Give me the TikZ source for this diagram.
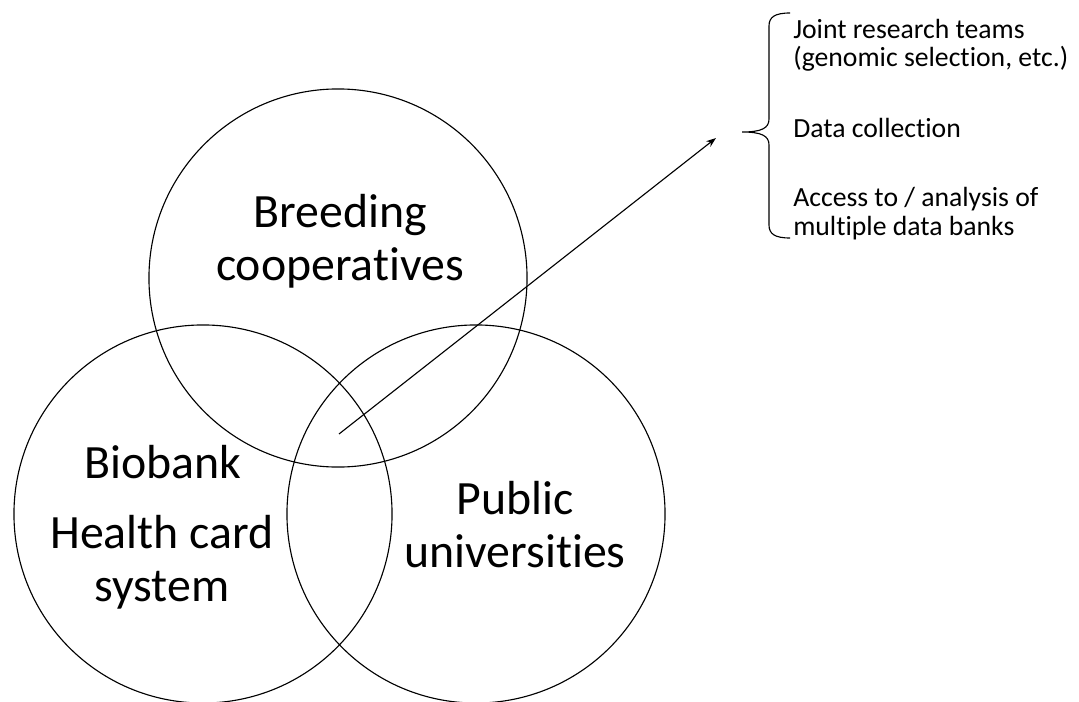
\documentclass[tikz,border=0pt]{standalone}
\usepackage{fontspec}
\setmainfont[Ligatures=NoCommon]{Carlito}
\usetikzlibrary{arrows.meta}

\tikzset{
    venn/.style={circle, draw, line width=0.8pt, minimum size=9.45cm, inner sep=0pt},
    bigtext/.style={align=center, anchor=base, font=\fontsize{34}{37}\selectfont},
    smalltext/.style={align=left, anchor=base west, inner xsep=0pt, font=\fontsize{19.7}{20.5}\selectfont}
}

\begin{document}
\begin{tikzpicture}[x=0.025cm, y=-0.025cm]
        \useasboundingbox (0,0) rectangle (1079,702);

        % the three circles
        \node[venn] (breed) at (338,278) {};
        \node[venn] (bio) at (203,514) {};
        \node[venn] (pub) at (476,514) {};

        % circle labels (anchored on the last line)
        \node[bigtext] (breedlbl) at (340,280) {Breeding\\cooperatives};
        \node[bigtext] (biolbl) at (163,478) {Biobank};
        \node[bigtext] (healthlbl) at (162,601) {Health card\\system};
        \node[bigtext] (publbl) at (515,567) {Public\\universities};

        % arrow out of the common area
        \coordinate (from) at (339,434);
        \coordinate (to) at (716,138);
        \draw[line width=0.8pt, -{Stealth[length=7pt, width=5pt]}] (from) -- (to);

        % brace
        \draw[line width=0.8pt] (790,13) .. controls (775,13) and (769,17) .. (769,26) -- (769,119)
            .. controls (769,128) and (762,132) .. (742,132)
            .. controls (762,132) and (769,136) .. (769,145) -- (769,225)
            .. controls (769,234) and (775,238) .. (790,238);

        % list
        \node[smalltext] (teams) at (793,67) {Joint research teams\\(genomic selection, etc.)};
        \node[smalltext] (collect) at (793,138) {Data collection};
        \node[smalltext] (access) at (793,235) {Access to / analysis of\\multiple data banks};
    \end{tikzpicture}
\end{document}
